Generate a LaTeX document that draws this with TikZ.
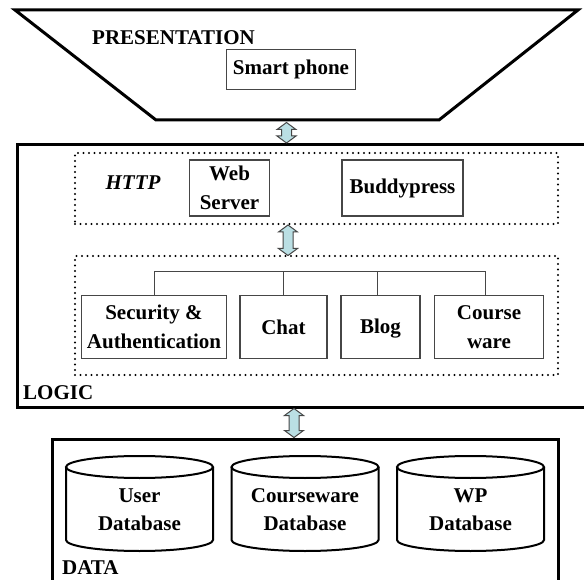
\documentclass[tikz,border=0pt]{standalone}
\usepackage{fontspec}
\setmainfont{Liberation Serif}
\usetikzlibrary{calc}

\definecolor{arrowfill}{RGB}{186,223,228}
\definecolor{boxline}{RGB}{70,70,70}

\tikzset{
  layer/.style={line width=3pt, line join=miter},
  dotbox/.style={draw, line width=2.2pt, dash pattern=on 0pt off 5.5pt, line cap=round},
  modbox/.style={draw=boxline, line width=1.1pt, align=center, inner sep=0pt},
  tree/.style={draw=boxline, line width=1pt},
  cyl/.style={line width=2pt},
  dbl/.style={draw=boxline, fill=arrowfill, line width=1pt, line join=miter},
}

\begin{document}
\begin{tikzpicture}[x=1pt, y=-1pt, every node/.style={font=\fontsize{21}{28.5}\selectfont\bfseries}]
\clip (0,0) rectangle (584,580);
\fill[white] (0,0) rectangle (584,580);

% presentation tier
\draw[layer] (15,10) -- (578,10) -- (439,120) -- (156,120) -- cycle;
\node[anchor=base west, inner sep=0pt] (pres) at (92,45) {PRESENTATION};
\node[modbox, minimum width=129, minimum height=40] (phone) at (291,69.5) {Smart phone};

% logic tier
\draw[layer] (17,145) rectangle (590,407);
\node[anchor=base west, inner sep=0pt] (logic) at (23,399) {LOGIC};
\node[dotbox, minimum width=483, minimum height=71] (httpbox) at (316.5,188.5) {};
\node (http) at (133,183) {\itshape HTTP};
\node[modbox, minimum width=80, minimum height=56] (web) at (229.5,188) {Web\\Server};
\node[modbox, minimum width=121, minimum height=56] (buddy) at (402.5,188) {Buddypress};

\node[dotbox, minimum width=483, minimum height=119] (plugbox) at (316.5,315.5) {};
\node[modbox, minimum width=145, minimum height=63] (sec) at (154,327) {Security \&\\Authentication};
\node[modbox, minimum width=87, minimum height=63] (chat) at (283.5,327) {Chat};
\node[modbox, minimum width=79, minimum height=63, text height=14pt, text depth=0pt] (blog) at (380.5,327) {Blog};
\node[modbox, minimum width=109, minimum height=63] (course) at (489,327) {Course\\ware};
\coordinate (bus) at (0,272);
\draw[tree] (sec.north) -- (sec.north |- bus) -- ([xshift=-4pt]course.north |- bus) -- ([xshift=-4pt]course.north);
\draw[tree] (chat.north) -- (chat.north |- bus);
\draw[tree] ([xshift=-3.5pt]blog.north) -- ([xshift=-3.5pt]blog.north |- bus);

% data tier
\draw[layer] (52,439) rectangle (558,590);
\node[anchor=base west, inner sep=0pt] (data) at (62,574) {DATA};
\foreach \cx in {139.5,305,470.5} {
  \draw[cyl, fill=white] (\cx-73.5,467) -- (\cx-73.5,540) arc[start angle=180, end angle=0, x radius=73.5, y radius=11] -- (\cx+73.5,467);
  \draw[cyl] (\cx,467) ellipse[x radius=73.5, y radius=11];
}
\node[align=center] (userdb) at (139.5,509.5) {User\\Database};
\node[align=center] (coursedb) at (305,509.5) {Courseware\\Database};
\node[align=center] (wpdb) at (470.5,509.5) {WP\\Database};

% links between tiers (x, top, bottom)
\foreach \x/\ya/\yb in {286.5/122.5/143, 288/225/255.5, 294/408.5/437.5}
  \draw[dbl] (\x,\ya) -- (\x+9.5,\ya+7) -- (\x+5,\ya+7) -- (\x+5,\yb-7) -- (\x+9.5,\yb-7)
    -- (\x,\yb) -- (\x-9.5,\yb-7) -- (\x-5,\yb-7) -- (\x-5,\ya+7) -- (\x-9.5,\ya+7) -- cycle;
\end{tikzpicture}
\end{document}
